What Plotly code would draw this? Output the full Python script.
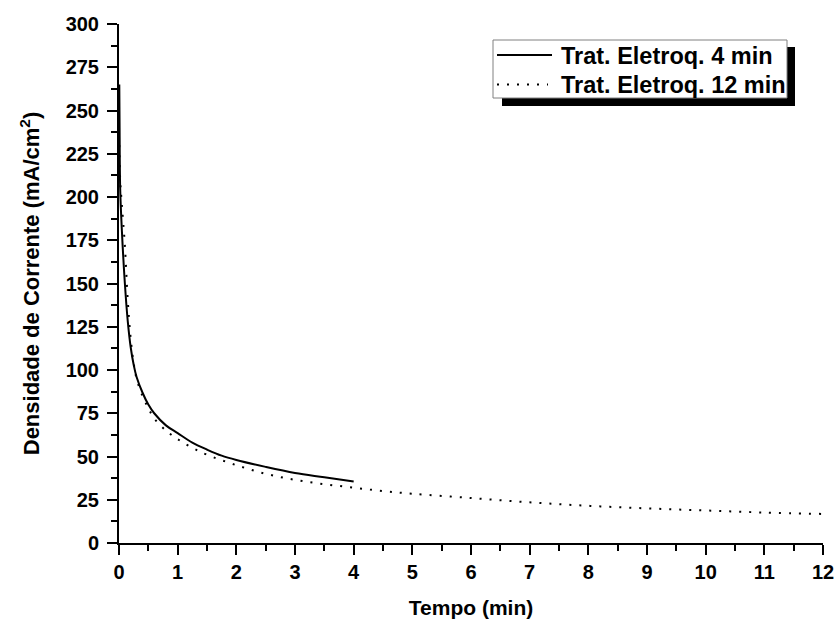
import plotly.graph_objects as go

# Data
t_4min = [0.005, 0.01, 0.02, 0.05, 0.1, 0.15, 0.2, 0.25, 0.3, 0.4, 0.5, 0.6, 0.8,
          1.0, 1.25, 1.5, 1.75, 2.0, 2.5, 3.0, 3.5, 4.0]
j_4min = [265, 240, 205, 180, 150, 128, 113, 103, 96, 87, 80, 75, 68,
          63.5, 58, 54, 50.5, 48, 44, 40.5, 38, 35.5]

t_12min = [0.005, 0.02, 0.05, 0.1, 0.15, 0.2, 0.25, 0.3, 0.4, 0.5, 0.6, 0.8,
           1.0, 1.25, 1.5, 2.0, 2.5, 3.0, 3.5, 4.0, 4.5, 5.0, 6.0, 7.0, 8.0,
           9.0, 10.0, 11.0, 12.0]
j_12min = [230, 210, 195, 172, 140, 118, 104, 95, 85, 78, 72, 65,
           60, 55, 51, 45, 40, 36.5, 34, 32, 30, 28.5, 26, 23.5, 21.5,
           20, 18.8, 17.6, 16.8]

names = ["Trat. Eletroq. 4 min", "Trat. Eletroq. 12 min"]
dashes = ["solid", "2px,8px"]

FONT = "Liberation Sans, Arial, sans-serif"
W, H = 838, 619
ML, MR, MT, MB = 119, 15, 24, 76
PW, PH = W - ML - MR, H - MT - MB


def px_x(p):
    return (p - ML) / PW


def px_y(p):
    return (H - MB - p) / PH


fig = go.Figure()
for tx, jy, nm, ds in [(t_4min, j_4min, names[0], dashes[0]),
                       (t_12min, j_12min, names[1], dashes[1])]:
    fig.add_trace(go.Scatter(x=tx, y=jy, mode="lines", name=nm, showlegend=False,
                             line=dict(color="black", width=2, dash=ds, shape="spline")))

axis_common = dict(
    showline=True, linecolor="black", linewidth=2,
    ticks="outside", ticklen=10, tickwidth=2, tickcolor="black",
    showgrid=False, zeroline=False, automargin=False,
    tickfont=dict(family=FONT, size=20, color="black", weight="bold"),
)

fig.update_xaxes(range=[0, 12], dtick=1, tick0=0,
                 minor=dict(ticks="outside", ticklen=6, tickwidth=2, tickcolor="black", dtick=0.5),
                 title=dict(text="<b>Tempo (min)</b>", font=dict(family=FONT, size=21, color="black"),
                            standoff=18),
                 **axis_common)
fig.update_yaxes(range=[0, 300], dtick=25, tick0=0, ticklabelstandoff=4,
                 minor=dict(ticks="outside", ticklen=6, tickwidth=2, tickcolor="black", dtick=12.5),
                 title=dict(text="<b>Densidade de Corrente (mA/cm<sup>2</sup>)</b>",
                            font=dict(family=FONT, size=22, color="black"), standoff=20),
                 **axis_common)

# hand-drawn legend (box with drop shadow)
fig.add_shape(type="rect", xref="paper", yref="paper",
              x0=px_x(502), x1=px_x(795), y0=px_y(106), y1=px_y(47),
              fillcolor="black", line=dict(width=0), layer="above")
fig.add_shape(type="rect", xref="paper", yref="paper",
              x0=px_x(493), x1=px_x(787), y0=px_y(98), y1=px_y(40),
              fillcolor="white", line=dict(width=1, color="#808080"), layer="above")
for i, (nm, ds) in enumerate(zip(names, dashes)):
    yy = 55 + 29.5 * i
    fig.add_shape(type="line", xref="paper", yref="paper",
                  x0=px_x(497), x1=px_x(552 - 4 * i), y0=px_y(yy), y1=px_y(yy),
                  line=dict(color="black", width=2, dash=ds), layer="above")
    fig.add_annotation(xref="paper", yref="paper", x=px_x(559), y=px_y(yy + 1),
                       xanchor="left", yanchor="middle", showarrow=False,
                       text="<b>" + nm + "</b>",
                       font=dict(family=FONT, size=23.5, color="black"))

fig.update_layout(
    width=W, height=H,
    margin=dict(l=ML, r=MR, t=MT, b=MB),
    plot_bgcolor="white", paper_bgcolor="white",
    showlegend=False,
)

fig.write_html("out.html")
